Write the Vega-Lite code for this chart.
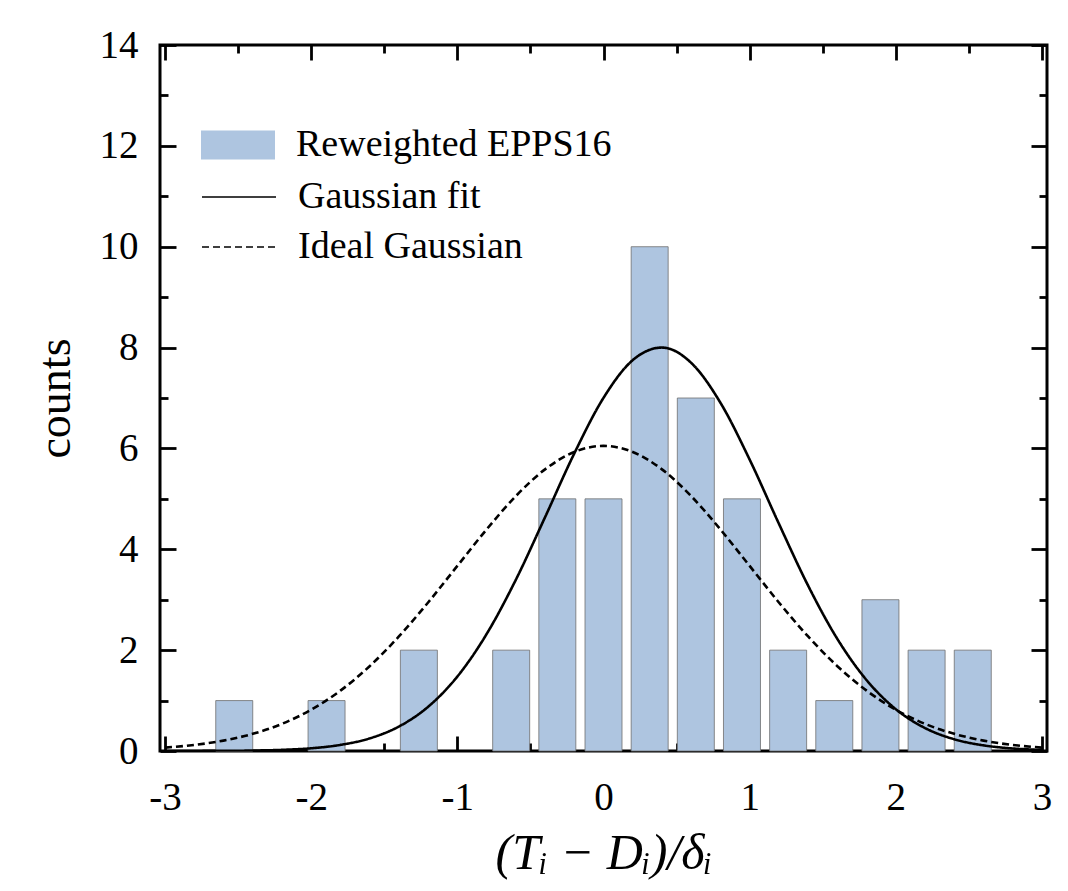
{
  "$schema": "https://vega.github.io/schema/vega-lite/v6.json",
  "width": 887,
  "height": 706,
  "autosize": "none",
  "padding": {"left": 160, "top": 45, "right": 21, "bottom": 140},
  "background": "white",
  "config": {
    "view": {"stroke": "black", "strokeWidth": 3},
    "axis": {
      "domain": false,
      "grid": false,
      "tickColor": "black",
      "tickWidth": 2.8,
      "labelFont": "Liberation Serif",
      "labelFontSize": 39,
      "labelColor": "black",
      "titleFont": "Liberation Serif",
      "titleFontWeight": "normal",
      "titleColor": "black",
      "titleFontSize": 46
    },
    "legend": {
      "labelFont": "Liberation Serif",
      "labelFontSize": 38,
      "labelColor": "black",
      "labelLimit": 600,
      "padding": 0
    }
  },
  "datasets": {
    "hist": [
      {"center": -2.5263, "count": 1, "series": "Reweighted EPPS16"},
      {"center": -1.8947, "count": 1, "series": "Reweighted EPPS16"},
      {"center": -1.2632, "count": 2, "series": "Reweighted EPPS16"},
      {"center": -0.6316, "count": 2, "series": "Reweighted EPPS16"},
      {"center": -0.3158, "count": 5, "series": "Reweighted EPPS16"},
      {"center": 0.0, "count": 5, "series": "Reweighted EPPS16"},
      {"center": 0.3158, "count": 10, "series": "Reweighted EPPS16"},
      {"center": 0.6316, "count": 7, "series": "Reweighted EPPS16"},
      {"center": 0.9474, "count": 5, "series": "Reweighted EPPS16"},
      {"center": 1.2632, "count": 2, "series": "Reweighted EPPS16"},
      {"center": 1.5789, "count": 1, "series": "Reweighted EPPS16"},
      {"center": 1.8947, "count": 3, "series": "Reweighted EPPS16"},
      {"center": 2.2105, "count": 2, "series": "Reweighted EPPS16"},
      {"center": 2.5263, "count": 2, "series": "Reweighted EPPS16"}
    ],
    "curves": [
      {"x": -3.0, "y": 0.0003, "series": "Gaussian fit"},
      {"x": -2.8, "y": 0.0011, "series": "Gaussian fit"},
      {"x": -2.6, "y": 0.0032, "series": "Gaussian fit"},
      {"x": -2.4, "y": 0.0088, "series": "Gaussian fit"},
      {"x": -2.2, "y": 0.0226, "series": "Gaussian fit"},
      {"x": -2.0, "y": 0.054, "series": "Gaussian fit"},
      {"x": -1.8, "y": 0.121, "series": "Gaussian fit"},
      {"x": -1.6, "y": 0.25, "series": "Gaussian fit"},
      {"x": -1.4, "y": 0.485, "series": "Gaussian fit"},
      {"x": -1.2, "y": 0.877, "series": "Gaussian fit"},
      {"x": -1.0, "y": 1.476, "series": "Gaussian fit"},
      {"x": -0.8, "y": 2.318, "series": "Gaussian fit"},
      {"x": -0.6, "y": 3.394, "series": "Gaussian fit"},
      {"x": -0.4, "y": 4.635, "series": "Gaussian fit"},
      {"x": -0.2, "y": 5.9, "series": "Gaussian fit"},
      {"x": 0.0, "y": 7.003, "series": "Gaussian fit"},
      {"x": 0.2, "y": 7.751, "series": "Gaussian fit"},
      {"x": 0.4, "y": 8.0, "series": "Gaussian fit"},
      {"x": 0.6, "y": 7.697, "series": "Gaussian fit"},
      {"x": 0.8, "y": 6.906, "series": "Gaussian fit"},
      {"x": 1.0, "y": 5.778, "series": "Gaussian fit"},
      {"x": 1.2, "y": 4.507, "series": "Gaussian fit"},
      {"x": 1.4, "y": 3.278, "series": "Gaussian fit"},
      {"x": 1.6, "y": 2.222, "series": "Gaussian fit"},
      {"x": 1.8, "y": 1.406, "series": "Gaussian fit"},
      {"x": 2.0, "y": 0.829, "series": "Gaussian fit"},
      {"x": 2.2, "y": 0.455, "series": "Gaussian fit"},
      {"x": 2.4, "y": 0.233, "series": "Gaussian fit"},
      {"x": 2.6, "y": 0.112, "series": "Gaussian fit"},
      {"x": 2.8, "y": 0.05, "series": "Gaussian fit"},
      {"x": 3.0, "y": 0.021, "series": "Gaussian fit"},
      {"x": -3.0, "y": 0.067, "series": "Ideal Gaussian"},
      {"x": -2.8, "y": 0.12, "series": "Ideal Gaussian"},
      {"x": -2.6, "y": 0.206, "series": "Ideal Gaussian"},
      {"x": -2.4, "y": 0.34, "series": "Ideal Gaussian"},
      {"x": -2.2, "y": 0.538, "series": "Ideal Gaussian"},
      {"x": -2.0, "y": 0.819, "series": "Ideal Gaussian"},
      {"x": -1.8, "y": 1.197, "series": "Ideal Gaussian"},
      {"x": -1.6, "y": 1.682, "series": "Ideal Gaussian"},
      {"x": -1.4, "y": 2.271, "series": "Ideal Gaussian"},
      {"x": -1.2, "y": 2.945, "series": "Ideal Gaussian"},
      {"x": -1.0, "y": 3.67, "series": "Ideal Gaussian"},
      {"x": -0.8, "y": 4.393, "series": "Ideal Gaussian"},
      {"x": -0.6, "y": 5.054, "series": "Ideal Gaussian"},
      {"x": -0.4, "y": 5.585, "series": "Ideal Gaussian"},
      {"x": -0.2, "y": 5.93, "series": "Ideal Gaussian"},
      {"x": 0.0, "y": 6.05, "series": "Ideal Gaussian"},
      {"x": 0.2, "y": 5.93, "series": "Ideal Gaussian"},
      {"x": 0.4, "y": 5.585, "series": "Ideal Gaussian"},
      {"x": 0.6, "y": 5.054, "series": "Ideal Gaussian"},
      {"x": 0.8, "y": 4.393, "series": "Ideal Gaussian"},
      {"x": 1.0, "y": 3.67, "series": "Ideal Gaussian"},
      {"x": 1.2, "y": 2.945, "series": "Ideal Gaussian"},
      {"x": 1.4, "y": 2.271, "series": "Ideal Gaussian"},
      {"x": 1.6, "y": 1.682, "series": "Ideal Gaussian"},
      {"x": 1.8, "y": 1.197, "series": "Ideal Gaussian"},
      {"x": 2.0, "y": 0.819, "series": "Ideal Gaussian"},
      {"x": 2.2, "y": 0.538, "series": "Ideal Gaussian"},
      {"x": 2.4, "y": 0.34, "series": "Ideal Gaussian"},
      {"x": 2.6, "y": 0.206, "series": "Ideal Gaussian"},
      {"x": 2.8, "y": 0.12, "series": "Ideal Gaussian"},
      {"x": 3.0, "y": 0.067, "series": "Ideal Gaussian"}
    ]
  },
  "layer": [
    {
      "data": {"name": "hist"},
      "mark": {"type": "bar", "width": 37, "stroke": "#6f6f6f", "strokeWidth": 0.8},
      "encoding": {
        "x": {
          "field": "center", "type": "quantitative",
          "scale": {"domain": [-3, 3], "nice": false, "zero": false},
          "axis": {
            "orient": "bottom",
            "title": "(Tᵢ  −  Dᵢ)/δᵢ",
            "titleFontStyle": "italic",
            "titleFontSize": 50,
            "titlePadding": 11,
            "values": [-3, -2.5, -2, -1.5, -1, -0.5, 0, 0.5, 1, 1.5, 2, 2.5, 3],
            "labelExpr": "datum.value % 1 === 0 ? toString(datum.value) : ''",
            "tickSize": {"condition": {"test": "datum.value % 1 === 0", "value": -15}, "value": -8},
            "labelPadding": 42
          }
        },
        "y": {
          "field": "count", "type": "quantitative",
          "scale": {"domain": [0, 14], "nice": false},
          "axis": {
            "orient": "left",
            "title": "counts",
            "titlePadding": 20,
            "values": [0, 1, 2, 3, 4, 5, 6, 7, 8, 9, 10, 11, 12, 13, 14],
            "labelExpr": "datum.value % 2 === 0 ? toString(datum.value) : ''",
            "tickSize": {"condition": {"test": "datum.value % 2 === 0", "value": -16}, "value": -8},
            "labelPadding": 38
          }
        },
        "color": {
          "field": "series", "type": "nominal",
          "scale": {"range": ["#aec5e0"]},
          "legend": {
            "title": null,
            "orient": "none",
            "legendX": 41,
            "legendY": 63,
            "symbolType": "M-1,-0.39H1V0.39H-1Z",
            "symbolSize": 5476,
            "symbolStrokeWidth": 0,
            "symbolOpacity": 1,
            "labelOffset": 21
          }
        }
      }
    },
    {
      "data": {"name": "curves"},
      "mark": {"type": "line", "color": "black", "strokeWidth": 2.6, "interpolate": "monotone", "clip": true},
      "encoding": {
        "x": {
          "field": "x", "type": "quantitative",
          "axis": {
            "orient": "top",
            "title": null,
            "labels": false,
            "values": [-3, -2.5, -2, -1.5, -1, -0.5, 0, 0.5, 1, 1.5, 2, 2.5, 3],
            "tickSize": {"condition": {"test": "datum.value % 1 === 0", "value": -15}, "value": -8}
          }
        },
        "y": {
          "field": "y", "type": "quantitative",
          "axis": {
            "orient": "right",
            "title": null,
            "labels": false,
            "values": [0, 1, 2, 3, 4, 5, 6, 7, 8, 9, 10, 11, 12, 13, 14],
            "tickSize": {"condition": {"test": "datum.value % 2 === 0", "value": -16}, "value": -8}
          }
        },
        "strokeDash": {
          "field": "series", "type": "nominal",
          "scale": {"domain": ["Gaussian fit", "Ideal Gaussian"], "range": [[1, 0], [7, 4]]},
          "legend": {
            "title": null,
            "orient": "none",
            "legendX": 41,
            "legendY": 128,
            "clipHeight": 48,
            "rowPadding": 2,
            "symbolType": "stroke",
            "symbolSize": 5476,
            "symbolStrokeWidth": 1.6,
            "symbolStrokeColor": "black",
            "labelOffset": 21
          }
        }
      }
    }
  ],
  "resolve": {"axis": {"x": "independent", "y": "independent"}}
}
